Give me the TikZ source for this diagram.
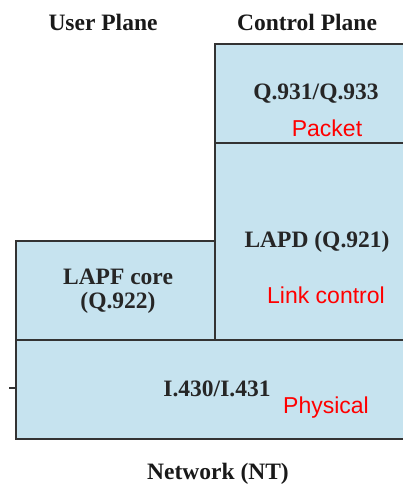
\documentclass[tikz,border=0pt]{standalone}
\usepackage{fontspec}
\setmainfont{Liberation Serif}
\newfontfamily\redfont{Liberation Sans}
\definecolor{boxfill}{HTML}{C6E3EF}
\definecolor{boxline}{HTML}{333333}
\definecolor{redtext}{HTML}{FF0000}
\tikzset{
  layerbox/.style={draw=boxline, line width=2pt, fill=boxfill},
  title/.style={anchor=base, inner sep=0pt, font=\fontsize{23.5}{26}\selectfont\bfseries, text=black!90},
  boxtext/.style={anchor=base, inner sep=0pt, font=\fontsize{23.5}{26}\selectfont\bfseries, text=black!85},
  redlabel/.style={anchor=base, inner sep=0pt, font=\fontsize{23}{26}\selectfont\redfont, text=redtext},
}
\begin{document}
\begin{tikzpicture}[x=1pt,y=-1pt]
\useasboundingbox (0,0) rectangle (403,484);
\begin{scope}
\clip (0,0) rectangle (403,484);
\draw[layerbox] (215,44) rectangle (420,143);
\draw[layerbox] (215,143) rectangle (420,340);
\draw[layerbox] (16,241) rectangle (215,340);
\draw[layerbox] (16,340) rectangle (420,439);
\end{scope}
\coordinate (tickL) at (9,388);
\coordinate (tickR) at (16,388);
\draw[boxline, line width=1.5pt] (tickL) -- (tickR);

\node[title] (user) at (103,31) {User Plane};
\node[title] (control) at (307,31) {Control Plane};
\node[boxtext] (q931) at (316,100) {Q.931/Q.933};
\node[redlabel] (packet) at (327,136) {Packet};
\node[boxtext] (lapd) at (317,247) {LAPD (Q.921)};
\node[redlabel] (link) at (326,303) {Link control};
\node[boxtext] (lapf1) at (118,284) {LAPF core};
\node[boxtext] (lapf2) at (118,308) {(Q.922)};
\node[boxtext] (i430) at (217,396) {I.430/I.431};
\node[redlabel] (phys) at (326,413) {Physical};
\node[title] (network) at (218,479) {Network (NT)};
\end{tikzpicture}
\end{document}
